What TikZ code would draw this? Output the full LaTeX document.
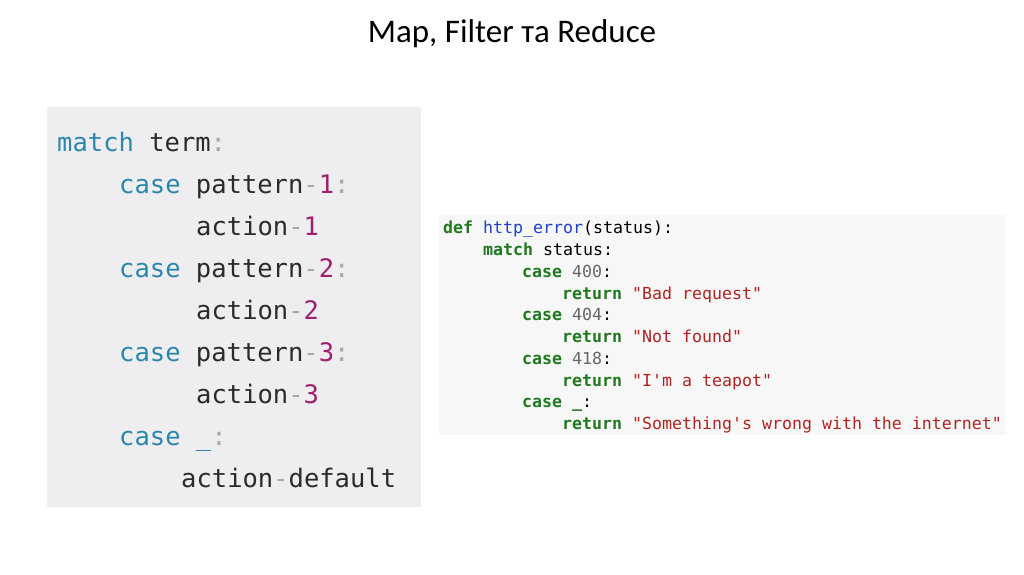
\documentclass[tikz,border=0pt]{standalone}
\usepackage{fontspec}
\setmainfont{Carlito}
\newfontfamily\cmono{DejaVu Sans Mono}
\definecolor{kwA}{HTML}{2E86AB}
\definecolor{idA}{HTML}{2B2B2B}
\definecolor{numA}{HTML}{A0206E}
\definecolor{punA}{HTML}{A8A8A8}
\definecolor{kwB}{HTML}{1F7A1F}
\definecolor{fnB}{HTML}{1F3FD0}
\definecolor{strB}{HTML}{B22222}
\definecolor{numB}{HTML}{666666}
\definecolor{bgA}{HTML}{EEEEF1}
\definecolor{bgB}{HTML}{F7F7F7}
\begin{document}
\begin{tikzpicture}[x=1pt,y=-1pt,
  la/.style={anchor=base west,inner sep=0pt,font=\cmono\fontsize{25.5}{25.5}\selectfont,text=idA},
  lb/.style={anchor=base west,inner sep=0pt,font=\cmono\fontsize{16.6}{16.6}\selectfont,text=black}]
\useasboundingbox[fill=white] (0,0) rectangle (1024,574);
\node[anchor=center,font=\fontsize{33}{33}\selectfont] (title) at (512,34) {Map, Filter та Reduce};
\fill[bgA] (47,107) rectangle (421,507);
\node[la] (a1) at (57,151) {\textcolor{kwA}{match} term\textcolor{punA}{:}};
\node[la] (a2) at (119,193) {\textcolor{kwA}{case} pattern\textcolor{punA}{-}\textcolor{numA}{1}\textcolor{punA}{:}};
\node[la] (a3) at (196,235) {action\textcolor{punA}{-}\textcolor{numA}{1}};
\node[la] (a4) at (119,277) {\textcolor{kwA}{case} pattern\textcolor{punA}{-}\textcolor{numA}{2}\textcolor{punA}{:}};
\node[la] (a5) at (196,319) {action\textcolor{punA}{-}\textcolor{numA}{2}};
\node[la] (a6) at (119,361) {\textcolor{kwA}{case} pattern\textcolor{punA}{-}\textcolor{numA}{3}\textcolor{punA}{:}};
\node[la] (a7) at (196,403) {action\textcolor{punA}{-}\textcolor{numA}{3}};
\node[la] (a8) at (119,445) {\textcolor{kwA}{case} \textcolor{kwA}{\_}\textcolor{punA}{:}};
\node[la] (a9) at (181,487) {action\textcolor{punA}{-}default};
\fill[bgB] (439,215) rectangle (1006,435);
\node[lb] (b1) at (443,233) {\textcolor{kwB}{\bfseries def} \textcolor{fnB}{http\_error}(status):};
\node[lb] (b2) at (483,255) {\textcolor{kwB}{\bfseries match} status:};
\node[lb] (b3) at (522,277) {\textcolor{kwB}{\bfseries case} \textcolor{numB}{400}:};
\node[lb] (b4) at (562,299) {\textcolor{kwB}{\bfseries return} \textcolor{strB}{"Bad request"}};
\node[lb] (b5) at (522,320) {\textcolor{kwB}{\bfseries case} \textcolor{numB}{404}:};
\node[lb] (b6) at (562,342) {\textcolor{kwB}{\bfseries return} \textcolor{strB}{"Not found"}};
\node[lb] (b7) at (522,364) {\textcolor{kwB}{\bfseries case} \textcolor{numB}{418}:};
\node[lb] (b8) at (562,386) {\textcolor{kwB}{\bfseries return} \textcolor{strB}{"I'm a teapot"}};
\node[lb] (b9) at (522,407) {\textcolor{kwB}{\bfseries case} \textcolor{kwB}{\bfseries\_}:};
\node[lb] (b10) at (562,429) {\textcolor{kwB}{\bfseries return} \textcolor{strB}{"Something's wrong with the internet"}};
\end{tikzpicture}
\end{document}
